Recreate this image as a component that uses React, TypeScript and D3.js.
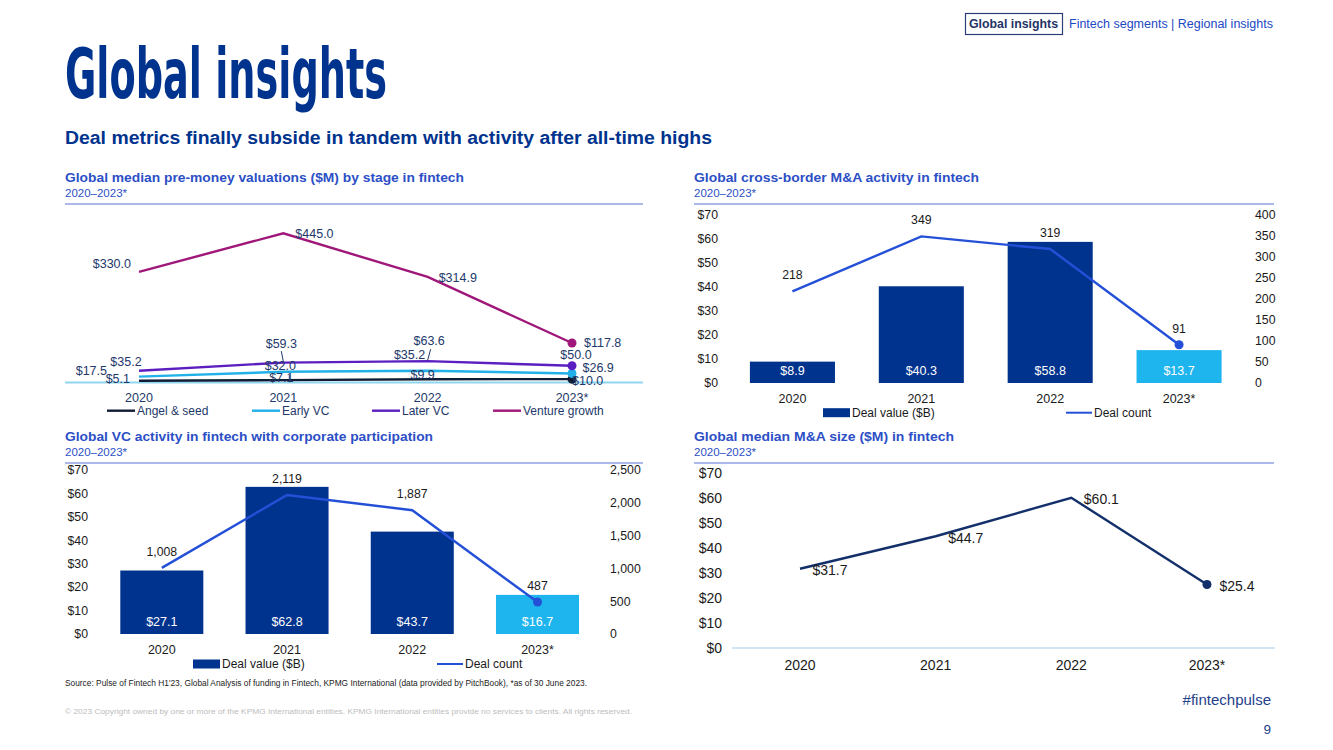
import React from 'react';
import * as d3 from 'd3';

// ---------- data ----------
const years = ['2020', '2021', '2022', '2023*'];

const angelSeed = [5.1, 7.1, 9.9, 10.0];
const earlyVC = [17.5, 32.0, 35.2, 26.9];
const laterVC = [35.2, 59.3, 63.6, 50.0];
const ventureGrowth = [330.0, 445.0, 314.9, 117.8];

const crossBorderValue = [8.9, 40.3, 58.8, 13.7];
const crossBorderCount = [218, 349, 319, 91];

const corpValue = [27.1, 62.8, 43.7, 16.7];
const corpCount = [1008, 2119, 1887, 487];

const maSize = [31.7, 44.7, 60.1, 25.4];

const dollarTicks = [0, 10, 20, 30, 40, 50, 60, 70];
const crossCountTicks = [0, 50, 100, 150, 200, 250, 300, 350, 400];
const corpCountTicks = [0, 500, 1000, 1500, 2000, 2500];

// ---------- styles ----------
const FONT = 'Liberation Sans, Arial, Helvetica, sans-serif';
const NAVY = '#00338D';
const CYAN = '#1EB4EE';
const COBALT = '#2450D8';
const TITLE_BLUE = '#2C4FC6';
const TEXT = '#1a1a1a';
const LABEL_NAVY = '#23386a';

const fmtDollar = (v: number) => `$${v.toFixed(1)}`;
const fmtComma = d3.format(',');

function SectionHeader({ x, y, w, title, titleLen }: { x: number; y: number; w: number; title: string; titleLen: number }) {
  return (
    <g>
      <text x={x} y={y} fontFamily={FONT} fontWeight="bold" fontSize={12.5} fill={TITLE_BLUE} textLength={titleLen} lengthAdjust="spacingAndGlyphs">
        {title}
      </text>
      <text x={x} y={y + 15} fontFamily={FONT} fontSize={11.5} fill={TITLE_BLUE}>
        2020–2023*
      </text>
      <line x1={x} x2={x + w} y1={y + 22} y2={y + 22} stroke="#5872d4" strokeWidth={1.2} />
    </g>
  );
}

// ---------- Chart 1: valuations by stage ----------
type LabelPos = [number, number, 'start' | 'middle' | 'end'];
const stageSeries = [
  {
    name: 'Angel & seed', values: angelSeed, color: '#111d35',
    labels: [[-9, 2.5, 'end'], [-2, 1.8, 'middle'], [-5, -0.5, 'middle'], [0, 6, 'start']] as LabelPos[],
    leaders: [null, [6, -5, 6, 2], null, null],
  },
  {
    name: 'Early VC', values: earlyVC, color: '#22B0E8',
    labels: [[-32, -1.5, 'end'], [-3, -1.5, 'middle'], [-2.5, -11.4, 'end'], [10.5, -1, 'start']] as LabelPos[],
    leaders: [null, null, null, null],
  },
  {
    name: 'Later VC', values: laterVC, color: '#5B1FC1',
    labels: [[-13, -5, 'middle'], [-2, -15, 'middle'], [1.5, -16, 'middle'], [4, -6.5, 'middle']] as LabelPos[],
    leaders: [null, [-2, -11.5, 0, -1], [3, -12, 0, -1], null],
  },
  {
    name: 'Venture growth', values: ventureGrowth, color: '#A0177A',
    labels: [[-8, -4, 'end'], [12, 5, 'start'], [11, 5, 'start'], [12, 4, 'start']] as LabelPos[],
    leaders: [null, null, null, null],
  },
];
const stageLegendX = [107, 252, 372, 493];

function StageChart() {
  const x = d3.scalePoint<string>().domain(years).range([139, 572]);
  const y = d3.scaleLinear().domain([0, 500]).range([382.5, 214.85]);
  const line = d3.line<number>().x((_, i) => x(years[i])!).y((d) => y(d));
  return (
    <g>
      <line x1={65} x2={643} y1={382.5} y2={382.5} stroke="#8fd6ee" strokeWidth={2} />
      {stageSeries.map((s) => (
        <g key={s.name}>
          <path d={line(s.values)!} fill="none" stroke={s.color} strokeWidth={2.4} />
          <circle cx={x(years[3])} cy={y(s.values[3])} r={4.5} fill={s.color} />
        </g>
      ))}
      {stageSeries.map((s) =>
        s.values.map((v, i) => {
          const px = x(years[i])!;
          const py = y(v);
          const [dx, dy, anchor] = s.labels[i];
          const ld = s.leaders[i] as number[] | null;
          return (
            <g key={s.name + i}>
              {ld && <line x1={px + ld[0]} y1={py + ld[1]} x2={px + ld[2]} y2={py + ld[3]} stroke={LABEL_NAVY} strokeWidth={1} />}
              <text x={px + dx} y={py + dy} textAnchor={anchor} fontFamily={FONT} fontSize={12.5} fill={LABEL_NAVY}>
                {fmtDollar(v)}
              </text>
            </g>
          );
        })
      )}
      {years.map((yr) => (
        <text key={yr} x={x(yr)} y={402} textAnchor="middle" fontFamily={FONT} fontSize={12.5} fill={LABEL_NAVY}>
          {yr}
        </text>
      ))}
      {stageSeries.map((s, i) => (
        <g key={'lg' + s.name}>
          <line x1={stageLegendX[i]} x2={stageLegendX[i] + 28} y1={410.7} y2={410.7} stroke={s.color} strokeWidth={2.4} />
          <text x={stageLegendX[i] + 30} y={415} fontFamily={FONT} fontSize={12} fill={LABEL_NAVY}>
            {s.name}
          </text>
        </g>
      ))}
    </g>
  );
}

// ---------- Combo bar + line chart ----------
function ComboChart({
  values, counts, countTicks, xRange, yRange, leftEnd, rightStart, xLabelY, legendY, legendSwatchX, legendLineX, barPad,
}: {
  values: number[]; counts: number[]; countTicks: number[]; xRange: [number, number]; yRange: [number, number];
  leftEnd: number; rightStart: number; xLabelY: number; legendY: number; legendSwatchX: number; legendLineX: number; barPad: number;
}) {
  const x = d3.scaleBand<string>().domain(years).range(xRange).paddingInner(barPad).paddingOuter(barPad / 2);
  const yL = d3.scaleLinear().domain([0, 70]).range(yRange);
  const yR = d3.scaleLinear().domain([0, countTicks[countTicks.length - 1]]).range(yRange);
  const cx = (i: number) => x(years[i])! + x.bandwidth() / 2;
  const line = d3.line<number>().x((_, i) => cx(i)).y((d) => yR(d));
  return (
    <g fontFamily={FONT}>
      {dollarTicks.map((t) => (
        <text key={'l' + t} x={leftEnd} y={yL(t) + 4.3} textAnchor="end" fontSize={12.3} fill={TEXT}>
          ${t}
        </text>
      ))}
      {countTicks.map((t) => (
        <text key={'r' + t} x={rightStart} y={yR(t) + 4.3} textAnchor="start" fontSize={12.3} fill={TEXT}>
          {fmtComma(t)}
        </text>
      ))}
      {values.map((v, i) => (
        <rect key={'b' + i} x={x(years[i])} y={yL(v)} width={x.bandwidth()} height={yL(0) - yL(v)} fill={i === 3 ? CYAN : NAVY} />
      ))}
      {values.map((v, i) => (
        <text key={'bl' + i} x={cx(i)} y={yL(0) - 8} textAnchor="middle" fontSize={12.5} fill="#ffffff">
          {fmtDollar(v)}
        </text>
      ))}
      <path d={line(counts)!} fill="none" stroke={COBALT} strokeWidth={2.4} />
      <circle cx={cx(3)} cy={yR(counts[3])} r={4.5} fill={COBALT} />
      {counts.map((c, i) => (
        <text key={'cl' + i} x={cx(i)} y={yR(c) - 12} textAnchor="middle" fontSize={12.3} fill={TEXT}>
          {fmtComma(c)}
        </text>
      ))}
      {years.map((yr, i) => (
        <text key={yr} x={cx(i)} y={xLabelY} textAnchor="middle" fontSize={12.5} fill={TEXT}>
          {yr}
        </text>
      ))}
      <rect x={legendSwatchX} y={legendY - 4.5} width={27} height={9} fill={NAVY} />
      <text x={legendSwatchX + 29} y={legendY + 4.3} fontSize={12} fill={TEXT}>Deal value ($B)</text>
      <line x1={legendLineX} x2={legendLineX + 26} y1={legendY} y2={legendY} stroke={COBALT} strokeWidth={2} />
      <text x={legendLineX + 28} y={legendY + 4.3} fontSize={12} fill={TEXT}>Deal count</text>
    </g>
  );
}

// ---------- Chart 4: median M&A size ----------
function MASizeChart() {
  const x = d3.scalePoint<string>().domain(years).range([800, 1207]);
  const y = d3.scaleLinear().domain([0, 70]).range([648, 473]);
  const line = d3.line<number>().x((_, i) => x(years[i])!).y((d) => y(d));
  return (
    <g fontFamily={FONT}>
      {dollarTicks.map((t) => (
        <text key={t} x={722} y={y(t) + 5} textAnchor="end" fontSize={14} fill={TEXT}>
          ${t}
        </text>
      ))}
      <line x1={732} x2={1275} y1={648} y2={648} stroke="#d3e4f2" strokeWidth={2} />
      <path d={line(maSize)!} fill="none" stroke="#13306b" strokeWidth={2.4} />
      <circle cx={x(years[3])} cy={y(maSize[3])} r={4.5} fill="#13306b" />
      {maSize.map((v, i) => (
        <text key={'v' + i} x={x(years[i])! + 12.5} y={y(v) + 6.5} fontSize={14} fill={TEXT}>
          {fmtDollar(v)}
        </text>
      ))}
      {years.map((yr) => (
        <text key={yr} x={x(yr)} y={670} textAnchor="middle" fontSize={14} fill={TEXT}>
          {yr}
        </text>
      ))}
    </g>
  );
}

export default function App() {
  return (
    <svg width={1333} height={750} viewBox="0 0 1333 750" style={{ position: 'absolute', left: 0, top: 0, background: '#ffffff' }}>
      <rect x={0} y={0} width={1333} height={750} fill="#ffffff" />
      {/* top nav */}
      <rect x={965.5} y={13.5} width={97} height={21} fill="none" stroke="#2a3f75" strokeWidth={1.2} />
      <text x={969} y={28} fontFamily={FONT} fontWeight="bold" fontSize={12} fill="#1f3466" textLength={89} lengthAdjust="spacingAndGlyphs">
        Global insights
      </text>
      <text x={1069} y={28} fontFamily={FONT} fontSize={12} fill="#2148c4" textLength={204} lengthAdjust="spacingAndGlyphs">
        Fintech segments | Regional insights
      </text>

      {/* title */}
      <text x={65} y={97.5} fontFamily="'Liberation Sans Narrow', 'DejaVu Sans Condensed', 'Liberation Sans', sans-serif" fontWeight="bold" fontSize={70} fill={NAVY} textLength={322} lengthAdjust="spacingAndGlyphs">
        Global insights
      </text>
      <text x={65} y={143.5} fontFamily={FONT} fontWeight="bold" fontSize={17.5} fill={NAVY} textLength={647} lengthAdjust="spacingAndGlyphs">
        Deal metrics finally subside in tandem with activity after all-time highs
      </text>

      {/* section headers */}
      <SectionHeader x={65} y={182} w={578} title="Global median pre-money valuations ($M) by stage in fintech" titleLen={399} />
      <SectionHeader x={694} y={182} w={580} title="Global cross-border M&A activity in fintech" titleLen={285} />
      <SectionHeader x={65} y={441} w={578} title="Global VC activity in fintech with corporate participation" titleLen={368} />
      <SectionHeader x={694} y={441} w={580} title="Global median M&A size ($M) in fintech" titleLen={260} />

      <StageChart />
      <ComboChart
        values={crossBorderValue} counts={crossBorderCount} countTicks={crossCountTicks}
        xRange={[728, 1243.5]} yRange={[383, 215]} leftEnd={718} rightStart={1255}
        xLabelY={403} legendY={412.7} legendSwatchX={823} legendLineX={1066} barPad={0.34}
      />
      <ComboChart
        values={corpValue} counts={corpCount} countTicks={corpCountTicks}
        xRange={[99.2, 600.1]} yRange={[634, 470]} leftEnd={88} rightStart={610}
        xLabelY={654} legendY={664} legendSwatchX={193} legendLineX={437} barPad={0.337}
      />
      <MASizeChart />

      {/* footer */}
      <text x={65} y={686} fontFamily={FONT} fontSize={8.3} fill="#222" textLength={522} lengthAdjust="spacingAndGlyphs">
        Source: Pulse of Fintech H1'23, Global Analysis of funding in Fintech, KPMG International (data provided by PitchBook), *as of 30 June 2023.
      </text>
      <text x={65} y={714} fontFamily={FONT} fontSize={8} fill="#bdbdbd" textLength={567} lengthAdjust="spacingAndGlyphs">
        © 2023 Copyright owned by one or more of the KPMG International entities. KPMG International entities provide no services to clients. All rights reserved.
      </text>
      <text x={1271} y={705} textAnchor="end" fontFamily={FONT} fontSize={15} fill="#243f8c">#fintechpulse</text>
      <text x={1271} y={734} textAnchor="end" fontFamily={FONT} fontSize={13.5} fill="#243f8c">9</text>
    </svg>
  );
}
